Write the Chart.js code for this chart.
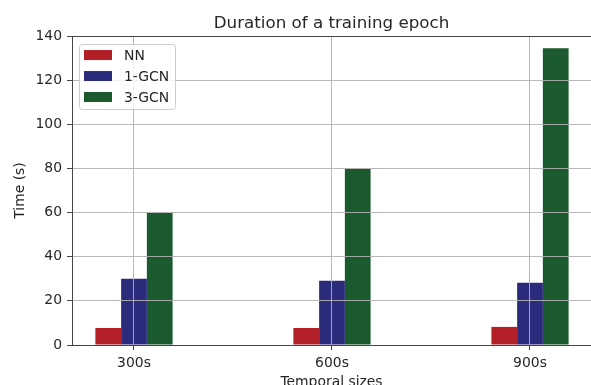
<!DOCTYPE html>
<html>
<head>
<meta charset="utf-8">
<script src="https://cdn.jsdelivr.net/npm/chart.js@4"></script>
<style>
  html, body { margin: 0; padding: 0; background: #fff; }
  #epochChart { display: block; }
</style>
</head>
<body>
<canvas id="epochChart" width="591" height="385"></canvas>
<script>
const categories = ["300s", "600s", "900s"];
const nnTimes = [7.7, 7.7, 8.2];
const gcn1Times = [30.0, 29.1, 28.2];
const gcn3Times = [59.8, 79.9, 134.5];
const yTicks = [0, 20, 40, 60, 80, 100, 120, 140];

const FONT = "'DejaVu Sans', sans-serif";
const TEXT = "#262626";
const SPINE = "#444";
const GRID = "rgba(176,176,176,0.9)";

const toPoints = (arr) => arr.map((v, i) => ({ x: i, y: v }));

// legend box in the top-left corner plus the top spine, like matplotlib
const boxLegend = {
    id: "boxLegend",
    afterDraw(chart) {
        const { ctx, chartArea } = chart;
        ctx.save();
        ctx.strokeStyle = SPINE;
        ctx.lineWidth = 1;
        ctx.beginPath();
        ctx.moveTo(chartArea.left, Math.round(chartArea.top) + 0.5);
        ctx.lineTo(chartArea.right, Math.round(chartArea.top) + 0.5);
        ctx.stroke();

        const x = chartArea.left + 7.5;
        const y = chartArea.top + 8.5;
        ctx.fillStyle = "rgba(255,255,255,0.8)";
        ctx.strokeStyle = "#cccccc";
        ctx.beginPath();
        ctx.roundRect(x, y, 96, 65, 3);
        ctx.fill();
        ctx.stroke();

        ctx.font = "13.9px " + FONT;
        ctx.textBaseline = "middle";
        ctx.textAlign = "left";
        chart.data.datasets.forEach((ds, i) => {
            const cy = chartArea.top + 19 + i * 21;
            ctx.fillStyle = ds.backgroundColor;
            ctx.fillRect(chartArea.left + 12, cy - 5, 28, 10);
            ctx.fillStyle = TEXT;
            ctx.fillText(ds.label, chartArea.left + 52, cy + 1);
        });
        ctx.restore();
    }
};

new Chart(document.getElementById("epochChart"), {
    type: "bar",
    data: {
        datasets: [
            { label: "NN", data: toPoints(nnTimes), backgroundColor: "#b21f27" },
            { label: "1-GCN", data: toPoints(gcn1Times), backgroundColor: "#2b2b7b" },
            { label: "3-GCN", data: toPoints(gcn3Times), backgroundColor: "#1b5a2e" }
        ]
    },
    options: {
        responsive: false,
        animation: false,
        layout: { padding: { left: 0, right: 0, top: 0, bottom: 0 } },
        datasets: {
            bar: {
                barPercentage: 1,
                categoryPercentage: 0.39,
                borderWidth: 0
            }
        },
        plugins: {
            legend: { display: false },
            tooltip: { enabled: false },
            title: {
                display: true,
                text: "Duration of a training epoch",
                fullSize: false,
                color: TEXT,
                font: { family: FONT, size: 16.7, weight: "normal" },
                padding: { top: 14, bottom: 2 }
            }
        },
        scales: {
            x: {
                type: "linear",
                offset: false,
                min: -0.3131,
                max: 2.3081,
                afterFit: (scale) => { scale.height = 40; },
                afterBuildTicks: (scale) => {
                    scale.ticks = categories.map((c, i) => ({ value: i }));
                },
                ticks: {
                    color: TEXT,
                    font: { family: FONT, size: 13.9 },
                    padding: 5,
                    maxRotation: 0,
                    autoSkip: false,
                    callback: (value) => categories[value]
                },
                grid: {
                    z: 1,
                    offset: false,
                    color: GRID,
                    lineWidth: 1,
                    tickColor: SPINE,
                    tickLength: 5
                },
                border: { z: 2, color: SPINE, width: 1 },
                title: {
                    display: true,
                    text: "Temporal sizes",
                    color: TEXT,
                    font: { family: FONT, size: 13.9 },
                    padding: { top: 0, bottom: -6 }
                }
            },
            y: {
                min: 0,
                max: 140,
                afterFit: (scale) => { scale.width = 72; },
                afterBuildTicks: (scale) => {
                    scale.ticks = yTicks.map((v) => ({ value: v }));
                },
                ticks: {
                    color: TEXT,
                    font: { family: FONT, size: 13.9 },
                    padding: 5
                },
                grid: {
                    z: 1,
                    color: GRID,
                    lineWidth: 1,
                    tickColor: SPINE,
                    tickLength: 5
                },
                border: { z: 2, color: SPINE, width: 1 },
                title: {
                    display: true,
                    text: "Time (s)",
                    color: TEXT,
                    font: { family: FONT, size: 13.9 },
                    padding: { top: 12, bottom: 0 }
                }
            }
        }
    },
    plugins: [boxLegend]
});
</script>
</body>
</html>
